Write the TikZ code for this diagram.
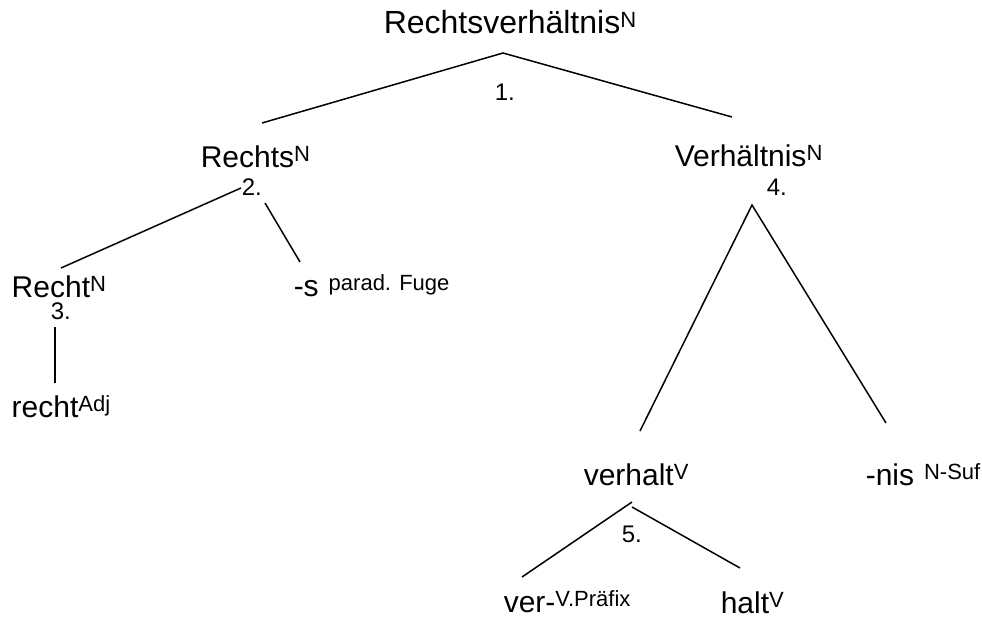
\documentclass[tikz,border=0pt]{standalone}
\usepackage{fontspec}
\setmainfont{Liberation Sans}
\newcommand\hoch[1]{\raisebox{6pt}{\fontsize{22}{22}\selectfont #1}}
\tikzset{every path/.style={line width=1.5pt}, wort/.style={anchor=base west, inner sep=0pt, font=\fontsize{30}{30}\selectfont}, nummer/.style={anchor=base west, inner sep=0pt, font=\fontsize{24}{24}\selectfont}}

\begin{document}
\begin{tikzpicture}[x=1pt,y=-1pt]
  \useasboundingbox (0,0) rectangle (982,619);

  \node[wort, font=\fontsize{32}{32}\selectfont] (rv) at (383, 33) {Rechtsverh\"altnis\hoch{N}};
  \node[wort] (re) at (200,167) {Rechts\hoch{N}};
  \node[wort] (vh) at (674,166) {Verh\"altnis\hoch{N}};
  \node[wort] (rt) at ( 11,297) {Recht\hoch{N}};
  \node[wort] (fs) at (293,296) {-s\hspace{10pt}\hoch{parad. Fuge}};
  \node[wort] (rj) at ( 11,417) {recht\hoch{Adj}};
  \node[wort] (vb) at (583,485) {verhalt\hoch{V}};
  \node[wort] (ns) at (865,485) {-nis\hspace{10pt}\hoch{N-Suf}};
  \node[wort] (vp) at (503,612) {ver-\hoch{V.Pr\"afix}};
  \node[wort] (ht) at (720,613) {halt\hoch{V}};

  \node[nummer] (n1) at (494,100) {1.};
  \node[nummer] (n2) at (241,195) {2.};
  \node[nummer] (n3) at ( 50,319) {3.};
  \node[nummer] (n4) at (766,195) {4.};
  \node[nummer] (n5) at (621,542) {5.};

  \coordinate (a1) at (503, 53);
  \coordinate (l1) at (262,123);
  \coordinate (r1) at (732,117);
  \coordinate (a2) at (241,188);
  \coordinate (l2) at ( 61,268);
  \coordinate (b2) at (265,203);
  \coordinate (r2) at (300,262);
  \coordinate (a3) at ( 55,327);
  \coordinate (u3) at ( 55,383);
  \coordinate (a4) at (752,205);
  \coordinate (l4) at (640,431);
  \coordinate (r4) at (886,423);
  \coordinate (a5) at (632,502);
  \coordinate (l5) at (522,577);
  \coordinate (b5) at (632,507);
  \coordinate (r5) at (740,568);

  \draw (l1) -- (a1) -- (r1);
  \draw (l2) -- (a2);
  \draw (b2) -- (r2);
  \draw (a3) -- (u3);
  \draw (l4) -- (a4) -- (r4);
  \draw (l5) -- (a5);
  \draw (b5) -- (r5);
\end{tikzpicture}
\end{document}
